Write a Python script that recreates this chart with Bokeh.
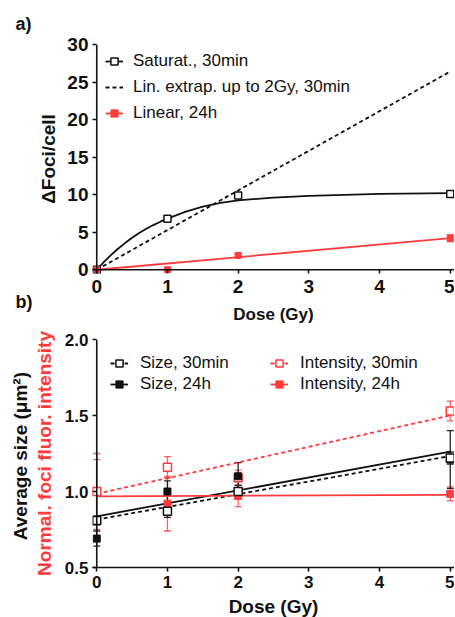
from bokeh.plotting import figure
from bokeh.models import (Range1d, Legend, LegendItem, Whisker, Span, Title,
                          ColumnDataSource, TeeHead, FixedTicker, LinearAxis,
                          PrintfTickFormatter)
from bokeh.layouts import column
from bokeh.embed import file_html
from bokeh.resources import INLINE

FONT = "Liberation Sans"
RED = "#ff3b3b"
BLACK = "#111111"

# ---------------- data: panel a ----------------
dose = [0, 1, 2, 5]
sat30 = [0.0, 6.8, 9.9, 10.1]
lin24 = [0.0, 0.0, 1.9, 4.2]
lin24_err = [0.0, 0.0, 0.2, 0.45]
sat_fit_x = [0, 0.1, 0.2, 0.3, 0.4, 0.5, 0.6, 0.7, 0.8, 0.9, 1.0,
             1.25, 1.5, 1.75, 2.0, 2.5, 3.0, 4.0, 5.0]
sat_fit_y = [0, 1.0, 1.95, 2.8, 3.55, 4.25, 4.9, 5.45, 5.95, 6.4, 6.8,
             7.7, 8.4, 8.9, 9.25, 9.6, 9.85, 10.1, 10.2]
extrap_x = [0, 5]
extrap_y = [0, 26.4]
lin_fit_x = [0, 5]
lin_fit_y = [0, 4.2]
a_yticks = [0, 5, 10, 15, 20, 25, 30]

# ---------------- data: panel b ----------------
size30 = [0.81, 0.87, 1.00, 1.22]
size30_err = [0.03, 0.04, 0.04, 0.04]
size24 = [0.69, 1.00, 1.10, 1.21]
size24_err = [0.05, 0.07, 0.09, 0.19]
int30 = [1.00, 1.16, 1.09, 1.53]
int30_err = [0.21, 0.07, 0.05, 0.065]
int24 = [1.00, 0.92, 0.97, 0.985]
int24_err = [0.25, 0.18, 0.07, 0.045]
fit_x = [0, 5]
size30_fit = [0.815, 1.233]
size24_fit = [0.837, 1.262]
int30_fit = [0.985, 1.50]
int24_fit = [0.968, 0.978]
b_yticks = [0.5, 1.0, 1.5, 2.0]
xticks = [0, 1, 2, 3, 4, 5]


def style_axis(ax, tick_size):
    ax.axis_line_width = 1.6
    ax.axis_line_color = BLACK
    ax.major_tick_line_width = 1.6
    ax.major_tick_line_color = BLACK
    ax.major_tick_in = 0
    ax.major_tick_out = 4
    ax.minor_tick_line_color = None
    ax.major_label_text_font = FONT
    ax.major_label_text_font_style = "bold"
    ax.major_label_text_font_size = tick_size
    ax.major_label_text_color = BLACK
    ax.major_label_standoff = 4


def style(p, tick_size, y_ticks):
    p.outline_line_color = None
    p.xgrid.grid_line_color = None
    p.ygrid.grid_line_color = None
    p.background_fill_color = "white"
    p.border_fill_color = None
    style_axis(p.xaxis[0], tick_size)
    style_axis(p.yaxis[0], tick_size)
    p.xaxis[0].ticker = FixedTicker(ticks=xticks)
    p.yaxis[0].ticker = FixedTicker(ticks=y_ticks)
    # y axis drawn at dose = 0 (frame is padded so edge markers are not clipped)
    p.yaxis[0].axis_line_color = None
    p.yaxis[0].major_tick_in = 4
    p.yaxis[0].major_tick_out = 0
    p.add_layout(Span(location=0, dimension="height", line_color=BLACK, line_width=1.6))


def axis_label(ax, text, size, standoff, color=BLACK):
    ax.axis_label = text
    ax.axis_label_text_font = FONT
    ax.axis_label_text_font_style = "bold"
    ax.axis_label_text_font_size = size
    ax.axis_label_text_color = color
    ax.axis_label_standoff = standoff


def whisker(p, x, y, err, color, alpha=1.0):
    src = ColumnDataSource(dict(base=x,
                                upper=[v + e for v, e in zip(y, err)],
                                lower=[v - e for v, e in zip(y, err)]))
    w = Whisker(source=src, base="base", upper="upper", lower="lower",
                dimension="height", line_color=color, line_width=1.3,
                line_alpha=alpha,
                upper_head=TeeHead(size=7, line_color=color, line_width=1.3, line_alpha=alpha),
                lower_head=TeeHead(size=7, line_color=color, line_width=1.3, line_alpha=alpha))
    p.add_layout(w)


def panel_title(text, standoff, valign):
    return Title(text=text, align="left", offset=-77, standoff=standoff,
                 vertical_align=valign,
                 text_font=FONT, text_font_style="bold", text_font_size="18px",
                 text_color=BLACK)


# ================= panel a =================
pa = figure(frame_width=362, frame_height=229, min_border_left=92,
            min_border_right=0, min_border_top=43, min_border_bottom=50,
            x_range=Range1d(-0.06, 5.06), y_range=Range1d(-0.5, 30.0),
            output_backend="svg", toolbar_location=None)
style(pa, "19px", a_yticks)
# x axis drawn at y = 0
pa.xaxis[0].axis_line_color = None
pa.xaxis[0].major_tick_in = 4
pa.xaxis[0].major_tick_out = 0
pa.xaxis[0].major_label_standoff = 6
pa.add_layout(Span(location=0, dimension="width", line_color=BLACK, line_width=1.6))
axis_label(pa.yaxis[0], "ΔFoci/cell", "19px", 5)
axis_label(pa.xaxis[0], "Dose (Gy)", "17px", 9)
pa.title = panel_title("a)", 22, "bottom")
pa.add_layout(panel_title("b)", -70, "top"), "below")

r_ext = pa.line(extrap_x, extrap_y, line_color=BLACK, line_width=1.8, line_dash="4 3")
r_satl = pa.line(sat_fit_x, sat_fit_y, line_color=BLACK, line_width=1.8)
r_linl = pa.line(lin_fit_x, lin_fit_y, line_color=RED, line_width=1.8)
whisker(pa, dose, lin24, lin24_err, RED)
r_sats = pa.scatter(dose, sat30, marker="square", size=7, fill_color="white",
                    line_color=BLACK, line_width=1.5)
r_lins = pa.scatter(dose, lin24, marker="square", size=6, fill_color=RED,
                    line_color=RED, line_width=1)

leg_a = Legend(items=[
    LegendItem(label="Saturat., 30min", renderers=[r_satl, r_sats]),
    LegendItem(label="Lin. extrap. up to 2Gy, 30min", renderers=[r_ext]),
    LegendItem(label="Linear, 24h", renderers=[r_linl, r_lins]),
], location=(13, 150), padding=0, margin=0, spacing=6,
    glyph_width=18, glyph_height=20, label_height=20, label_standoff=10,
    label_text_font=FONT, label_text_font_size="17px", label_text_color=BLACK,
    border_line_color=None, background_fill_alpha=0)
pa.add_layout(leg_a, "center")

# ================= panel b =================
pb = figure(frame_width=362, frame_height=228, min_border_left=92,
            min_border_right=0, min_border_top=13, min_border_bottom=49,
            x_range=Range1d(-0.06, 5.06), y_range=Range1d(0.5, 2.0),
            output_backend="svg", toolbar_location=None)
style(pb, "17px", b_yticks)
pb.yaxis[0].formatter = PrintfTickFormatter(format="%.1f")
axis_label(pb.yaxis[0], "Normal. foci fluor. intensity", "19px", 7, RED)
axis_label(pb.xaxis[0], "Dose (Gy)", "19px", 5)
extra = LinearAxis(ticker=FixedTicker(ticks=[]), axis_line_color=None,
                   major_tick_line_color=None, minor_tick_line_color=None)
axis_label(extra, "Average  size (μm²)", "19px", 0)
pb.add_layout(extra, "left")

r_s30l = pb.line(fit_x, size30_fit, line_color=BLACK, line_width=1.8, line_dash="4 3")
r_s24l = pb.line(fit_x, size24_fit, line_color=BLACK, line_width=1.8)
r_i30l = pb.line(fit_x, int30_fit, line_color=RED, line_width=1.8, line_dash="4 3")
r_i24l = pb.line(fit_x, int24_fit, line_color=RED, line_width=1.8)
whisker(pb, dose, int24, int24_err, RED, 0.8)
whisker(pb, dose, int30, int30_err, RED, 0.8)
whisker(pb, dose, size24, size24_err, BLACK, 0.9)
whisker(pb, dose, size30, size30_err, BLACK, 0.9)
r_i24s = pb.scatter(dose, int24, marker="square", size=7, fill_color=RED,
                    line_color=RED, line_width=1)
r_i30s = pb.scatter(dose, int30, marker="square", size=8, fill_color="white",
                    line_color=RED, line_width=1.5)
r_s24s = pb.scatter(dose, size24, marker="square", size=7, fill_color=BLACK,
                    line_color=BLACK, line_width=1)
r_s30s = pb.scatter(dose, size30, marker="square", size=8, fill_color="white",
                    line_color=BLACK, line_width=1.5)

common = dict(padding=0, margin=0, spacing=1, glyph_width=18, glyph_height=20,
              label_height=20, label_standoff=12, label_text_font=FONT,
              label_text_font_size="17px", label_text_color=BLACK,
              border_line_color=None, background_fill_alpha=0)
leg_b1 = Legend(items=[
    LegendItem(label="Size, 30min", renderers=[r_s30l, r_s30s]),
    LegendItem(label="Size, 24h", renderers=[r_s24l, r_s24s]),
], location=(18, 173), **common)
leg_b2 = Legend(items=[
    LegendItem(label="Intensity, 30min", renderers=[r_i30l, r_i30s]),
    LegendItem(label="Intensity, 24h", renderers=[r_i24l, r_i24s]),
], location=(178, 173), **common)
pb.add_layout(leg_b1, "center")
pb.add_layout(leg_b2, "center")

layout = column(pa, pb, spacing=0)
open("out.html", "w").write(file_html(layout, INLINE))
